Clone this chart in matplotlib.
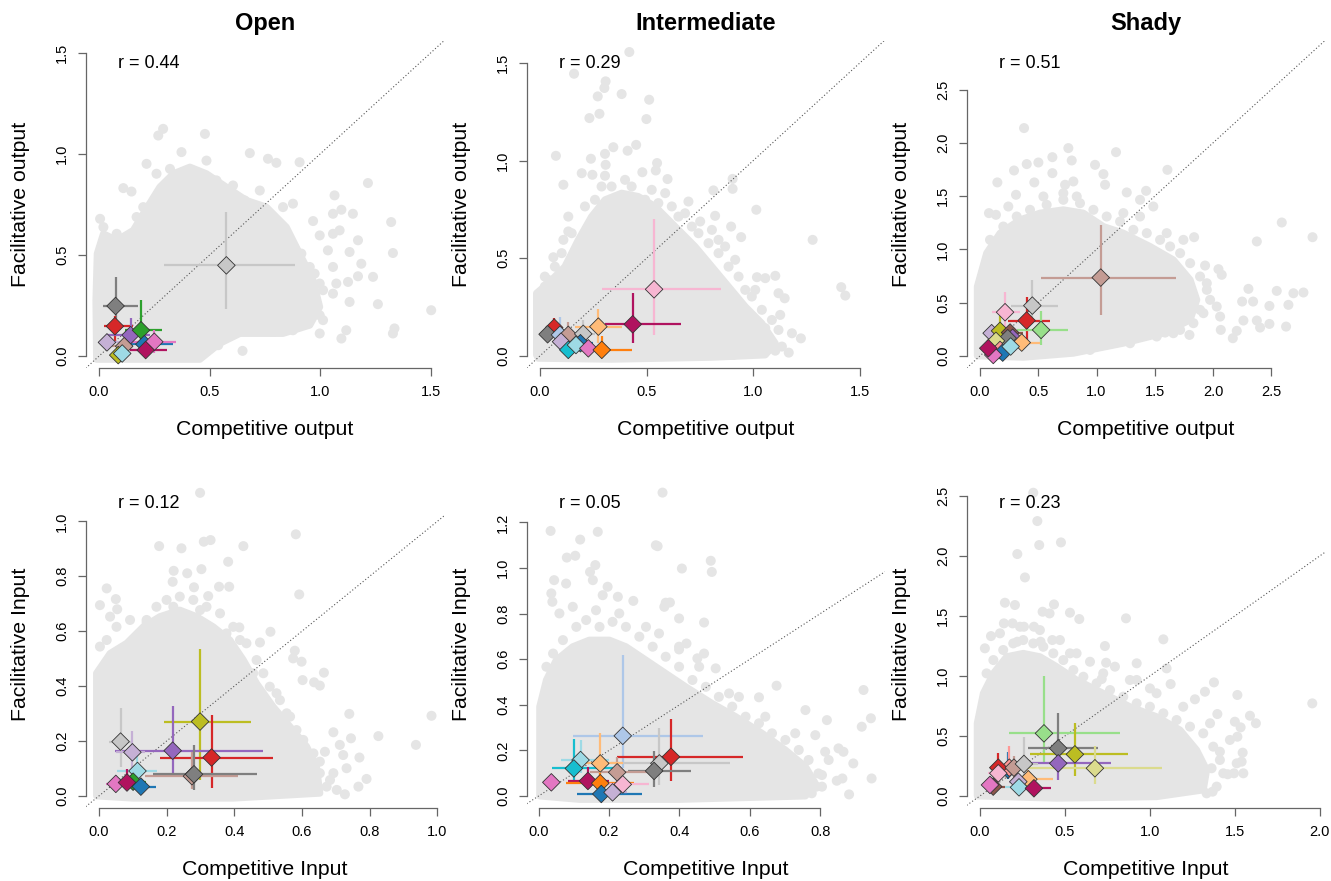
#!/usr/bin/env python3
"""Competitive vs facilitative output/input per habitat (Open, Intermediate, Shady).

Grey cloud = all pairwise values, diamonds = species means with CI bars,
dotted line = 1:1.
"""
import matplotlib
matplotlib.use("Agg")
import matplotlib.pyplot as plt
from matplotlib.patches import Polygon

# species colours
BLUE, LBLUE = "#1f77b4", "#aec7e8"
ORANGE, LORANGE = "#ff7f0e", "#ffbb78"
GREEN, LGREEN = "#2ca02c", "#98df8a"
RED, LRED = "#d62728", "#ff9896"
PURPLE, LPURPLE = "#9467bd", "#c5b0d5"
BROWN, LBROWN = "#8c564b", "#c49c94"
PINK, LPINK = "#e377c2", "#f7b6d2"
GREY, LGREY = "#7f7f7f", "#c7c7c7"
OLIVE, LOLIVE = "#bcbd22", "#dbdb8d"
CYAN, LCYAN = "#17becf", "#9edae5"
MAGENTA = "#b0135f"

TITLES = ["Open", "Intermediate", "Shady"]
R_VALUES = ["0.44", "0.29", "0.51", "0.12", "0.05", "0.23"]

# ---- species means: colour, x, y, x-CI, y-CI -------------------------------
# Open, output
P1_COL = [LGREY, GREY, RED, PURPLE, GREEN, LPURPLE, LBROWN, BLUE, PINK, MAGENTA, OLIVE, LCYAN]
P1_X = [0.576, 0.075, 0.072, 0.143, 0.190, 0.036, 0.114, 0.205, 0.250, 0.211, 0.087, 0.105]
P1_Y = [0.449, 0.248, 0.148, 0.104, 0.128, 0.068, 0.049, 0.059, 0.071, 0.030, 0.005, 0.013]
P1_XCI = [(0.293, 0.888), (0.020, 0.177), (0.023, 0.152), (0.030, 0.230), (0.117, 0.286), (0.010, 0.120),
          (0.060, 0.155), (0.130, 0.335), (0.150, 0.346), (0.140, 0.306), (0.060, 0.110), (0.070, 0.140)]
P1_YCI = [(0.235, 0.712), (0.120, 0.391), (0.064, 0.200), (0.050, 0.190), (0.030, 0.276), (0.040, 0.100),
          (0.020, 0.090), (0.030, 0.090), (0.015, 0.128), (0.010, 0.060), (0.000, 0.020), (0.000, 0.040)]

# Intermediate, output
P2_COL = [LPINK, MAGENTA, LORANGE, RED, GREY, LBLUE, LBROWN, LGREY, LPURPLE, BLUE, CYAN, LCYAN, PINK, ORANGE]
P2_X = [0.535, 0.435, 0.274, 0.067, 0.036, 0.094, 0.133, 0.203, 0.099, 0.190, 0.133, 0.169, 0.227, 0.290]
P2_Y = [0.341, 0.162, 0.150, 0.145, 0.111, 0.108, 0.108, 0.113, 0.073, 0.065, 0.031, 0.056, 0.039, 0.031]
P2_XCI = [(0.290, 0.849), (0.305, 0.662), (0.164, 0.383), (0.040, 0.100), (0.010, 0.070), (0.060, 0.130),
          (0.090, 0.170), (0.160, 0.260), (0.070, 0.130), (0.150, 0.250), (0.100, 0.170), (0.120, 0.220),
          (0.190, 0.270), (0.225, 0.430)]
P2_YCI = [(0.108, 0.700), (0.065, 0.320), (0.065, 0.239), (0.100, 0.193), (0.080, 0.140), (0.030, 0.200),
          (0.060, 0.175), (0.070, 0.184), (0.040, 0.100), (0.040, 0.090), (0.010, 0.060), (0.020, 0.100),
          (0.010, 0.070), (0.000, 0.100)]

# Shady, output
P3_COL = [LBROWN, LGREY, LPINK, RED, LGREEN, LPURPLE, OLIVE, BROWN, PURPLE, GREY, LOLIVE, LORANGE,
          LRED, BLUE, PINK, LCYAN, MAGENTA]
P3_X = [1.036, 0.449, 0.215, 0.400, 0.524, 0.100, 0.172, 0.258, 0.280, 0.238, 0.137, 0.358,
        0.172, 0.195, 0.114, 0.263, 0.071]
P3_Y = [0.735, 0.472, 0.410, 0.332, 0.244, 0.213, 0.235, 0.219, 0.170, 0.166, 0.141, 0.125,
        0.056, 0.031, 0.009, 0.088, 0.072]
P3_XCI = [(0.520, 1.683), (0.263, 0.672), (0.100, 0.343), (0.243, 0.601), (0.315, 0.753), (0.060, 0.150),
          (0.100, 0.250), (0.170, 0.370), (0.220, 0.340), (0.150, 0.320), (0.080, 0.200), (0.270, 0.515),
          (0.120, 0.230), (0.150, 0.250), (0.080, 0.150), (0.190, 0.330), (0.030, 0.120)]
P3_YCI = [(0.385, 1.230), (0.300, 0.714), (0.244, 0.604), (0.120, 0.557), (0.103, 0.425), (0.150, 0.270),
          (0.150, 0.370), (0.150, 0.280), (0.120, 0.220), (0.090, 0.250), (0.080, 0.210), (0.060, 0.200),
          (0.020, 0.100), (0.000, 0.070), (0.000, 0.040), (0.040, 0.140), (0.030, 0.120)]

# Open, input
P4_COL = [OLIVE, PURPLE, RED, LBROWN, GREY, LGREY, LPURPLE, LCYAN, PINK, GREEN, MAGENTA, BLUE]
P4_X = [0.299, 0.218, 0.333, 0.275, 0.281, 0.064, 0.099, 0.114, 0.050, 0.101, 0.083, 0.124]
P4_Y = [0.271, 0.165, 0.140, 0.072, 0.079, 0.198, 0.159, 0.091, 0.044, 0.052, 0.049, 0.034]
P4_XCI = [(0.192, 0.449), (0.047, 0.486), (0.180, 0.515), (0.136, 0.412), (0.160, 0.466), (0.030, 0.100),
          (0.050, 0.135), (0.052, 0.172), (0.020, 0.080), (0.070, 0.140), (0.050, 0.110), (0.090, 0.170)]
P4_YCI = [(0.058, 0.534), (0.083, 0.328), (0.030, 0.295), (0.025, 0.160), (0.022, 0.186), (0.107, 0.319),
          (0.100, 0.238), (0.050, 0.155), (0.020, 0.070), (0.020, 0.090), (0.020, 0.100), (0.010, 0.060)]

# Intermediate, input
P5_COL = [LBLUE, RED, LGREY, GREY, LBROWN, LORANGE, LCYAN, CYAN, MAGENTA, ORANGE, LPINK, PINK, BLUE, LPURPLE]
P5_X = [0.239, 0.376, 0.343, 0.328, 0.223, 0.175, 0.119, 0.100, 0.140, 0.175, 0.239, 0.036, 0.178, 0.210]
P5_Y = [0.264, 0.172, 0.143, 0.110, 0.104, 0.143, 0.158, 0.121, 0.066, 0.056, 0.051, 0.060, 0.009, 0.016]
P5_XCI = [(0.097, 0.467), (0.222, 0.581), (0.206, 0.543), (0.253, 0.434), (0.145, 0.324), (0.100, 0.240),
          (0.064, 0.200), (0.039, 0.210), (0.083, 0.200), (0.078, 0.272), (0.180, 0.314), (0.020, 0.050),
          (0.110, 0.295), (0.170, 0.250)]
P5_YCI = [(0.121, 0.618), (0.067, 0.340), (0.048, 0.297), (0.041, 0.197), (0.050, 0.172), (0.080, 0.275),
          (0.100, 0.246), (0.056, 0.250), (0.030, 0.128), (0.020, 0.100), (0.020, 0.080), (0.040, 0.080),
          (0.000, 0.030), (0.000, 0.040)]

# Shady, input
P6_COL = [LGREEN, GREY, OLIVE, PURPLE, LOLIVE, BLUE, LRED, RED, LBROWN, LGREY, LPINK, LORANGE,
          LPURPLE, BROWN, PINK, LCYAN, MAGENTA]
P6_X = [0.377, 0.461, 0.559, 0.461, 0.677, 0.165, 0.173, 0.108, 0.200, 0.259, 0.108, 0.285,
        0.226, 0.078, 0.059, 0.230, 0.318]
P6_Y = [0.522, 0.397, 0.347, 0.272, 0.231, 0.220, 0.236, 0.236, 0.236, 0.267, 0.189, 0.139,
        0.119, 0.078, 0.092, 0.072, 0.064]
P6_XCI = [(0.171, 0.824), (0.285, 0.697), (0.294, 0.870), (0.300, 0.770), (0.250, 1.070), (0.120, 0.210),
          (0.120, 0.230), (0.060, 0.160), (0.130, 0.270), (0.180, 0.340), (0.050, 0.170), (0.200, 0.432),
          (0.170, 0.280), (0.040, 0.150), (0.030, 0.090), (0.150, 0.300), (0.250, 0.416)]
P6_YCI = [(0.270, 1.000), (0.200, 0.689), (0.167, 0.606), (0.133, 0.400), (0.100, 0.417), (0.140, 0.370),
          (0.150, 0.420), (0.150, 0.356), (0.150, 0.330), (0.150, 0.494), (0.110, 0.270), (0.070, 0.220),
          (0.060, 0.180), (0.040, 0.120), (0.050, 0.130), (0.030, 0.120), (0.030, 0.100)]

# ---- background cloud: outline of the dense core, fringe and sparse points --
P1_CORE = [(-0.011, -0.016), (-0.014, 0.276), (-0.008, 0.507), (0.020, 0.605), (0.080, 0.573), (0.155, 0.622),
           (0.200, 0.704), (0.275, 0.836), (0.336, 0.902), (0.411, 0.935), (0.486, 0.902), (0.576, 0.836),
           (0.667, 0.770), (0.757, 0.737), (0.847, 0.638), (0.907, 0.507), (0.968, 0.375), (0.998, 0.243),
           (0.953, 0.153), (0.832, 0.112), (0.637, 0.112), (0.546, 0.063), (0.456, -0.016)]
P1_EDGE = [(0.396, 0.836), (0.456, 0.819), (0.531, 0.869), (0.606, 0.844), (0.659, 0.770), (0.727, 0.819),
           (0.832, 0.737), (0.877, 0.754), (0.862, 0.573), (0.877, 0.490), (0.915, 0.507), (0.953, 0.441),
           (0.975, 0.408), (0.998, 0.359), (1.013, 0.326), (0.968, 0.276), (0.930, 0.211), (0.877, 0.169),
           (0.998, 0.202), (0.938, 0.309), (0.200, 0.737), (0.170, 0.688), (0.080, 0.605), (0.035, 0.540),
           (0.321, 0.926), (0.260, 0.902), (0.546, 0.795), (0.697, 0.704), (0.787, 0.671), (1.035, 0.523),
           (1.058, 0.441), (1.013, 0.178), (0.817, 0.145), (0.697, 0.128), (0.576, 0.095)]
P1_PTS = [(0.290, 1.124), (0.268, 1.091), (0.479, 1.099), (0.373, 1.009), (0.682, 1.004), (0.764, 0.976),
          (0.802, 0.956), (0.486, 0.967), (0.215, 0.951), (0.907, 0.959), (1.216, 0.856), (0.110, 0.831),
          (0.147, 0.814), (1.065, 0.795), (1.096, 0.724), (1.148, 0.704), (0.968, 0.668), (1.321, 0.663),
          (1.058, 0.605), (1.088, 0.622), (1.171, 0.573), (1.133, 0.515), (1.186, 0.457), (1.329, 0.510),
          (1.239, 0.392), (1.171, 0.395), (1.126, 0.367), (1.073, 0.359), (1.058, 0.309), (1.133, 0.268),
          (1.261, 0.257), (1.502, 0.227), (1.336, 0.137), (1.329, 0.112), (1.118, 0.128), (0.998, 0.112),
          (0.877, 0.128), (0.787, 0.120), (1.096, 0.087), (0.649, 0.026), (0.539, 0.054), (0.005, 0.679),
          (0.020, 0.638), (0.998, 0.597), (1.058, 0.704)]

P2_CORE = [(-0.016, 0.005), (-0.016, 0.321), (0.039, 0.372), (0.117, 0.457), (0.180, 0.594), (0.242, 0.713),
           (0.305, 0.799), (0.383, 0.833), (0.461, 0.816), (0.540, 0.765), (0.634, 0.662), (0.727, 0.560),
           (0.806, 0.457), (0.884, 0.355), (0.962, 0.253), (1.040, 0.167), (1.103, 0.065), (1.056, 0.005),
           (0.806, -0.007), (0.336, -0.017), (-0.008, -0.012)]
P2_EDGE = [(0.211, 0.765), (0.258, 0.799), (0.336, 0.867), (0.368, 0.782), (0.430, 0.867), (0.493, 0.799),
           (0.555, 0.782), (0.587, 0.833), (0.649, 0.713), (0.680, 0.730), (0.743, 0.628), (0.790, 0.577),
           (0.837, 0.526), (0.884, 0.457), (0.931, 0.406), (0.962, 0.338), (0.993, 0.304), (1.040, 0.236),
           (1.087, 0.184), (1.118, 0.133), (1.181, 0.116), (1.056, 0.065), (0.149, 0.628), (0.102, 0.526),
           (0.070, 0.457), (0.039, 0.389), (0.133, 0.713), (0.289, 0.867), (0.399, 0.901), (0.524, 0.850),
           (0.618, 0.765), (0.712, 0.662), (0.806, 0.645), (0.868, 0.560), (0.915, 0.492), (1.009, 0.338),
           (1.134, 0.048), (0.853, 0.014)]
P2_PTS = [(0.419, 1.555), (0.160, 1.444), (0.308, 1.405), (0.302, 1.371), (0.383, 1.340), (0.271, 1.328),
          (0.512, 1.311), (0.232, 1.217), (0.279, 1.239), (0.499, 1.212), (0.344, 1.068), (0.451, 1.080),
          (0.411, 1.050), (0.075, 1.024), (0.305, 1.034), (0.239, 1.009), (0.549, 0.987), (0.308, 0.978),
          (0.196, 0.935), (0.480, 0.940), (0.543, 0.949), (0.598, 0.905), (0.246, 0.927), (0.110, 0.876),
          (0.305, 0.922), (0.903, 0.906), (0.903, 0.855), (0.813, 0.847), (1.014, 0.748), (0.696, 0.790),
          (1.278, 0.594), (0.751, 0.688), (0.821, 0.717), (0.896, 0.662), (0.943, 0.608), (0.837, 0.594),
          (1.017, 0.403), (1.103, 0.410), (1.056, 0.398), (1.118, 0.321), (1.147, 0.295), (1.412, 0.352),
          (1.431, 0.309), (1.126, 0.210), (1.223, 0.090), (1.166, 0.017), (1.103, 0.027), (0.907, 0.005),
          (1.056, 0.142), (0.063, 0.505), (0.023, 0.406), (0.023, 0.355), (0.133, 0.637), (0.110, 0.594)]

P3_CORE = [(-0.023, 0.0), (-0.023, 0.651), (0.057, 0.964), (0.172, 1.152), (0.343, 1.277), (0.515, 1.340),
           (0.715, 1.371), (0.887, 1.340), (1.059, 1.214), (1.230, 1.152), (1.459, 1.027), (1.659, 0.901),
           (1.803, 0.714), (1.860, 0.526), (1.803, 0.338), (1.574, 0.213), (1.230, 0.119), (0.801, 0.025),
           (0.372, -0.013)]
P3_EDGE = [(0.086, 1.089), (0.200, 1.214), (0.315, 1.308), (0.429, 1.371), (0.572, 1.418), (0.715, 1.465),
           (0.858, 1.433), (0.973, 1.371), (1.087, 1.308), (1.202, 1.261), (1.316, 1.183), (1.431, 1.152),
           (1.545, 1.089), (1.631, 1.027), (1.717, 0.964), (1.803, 0.870), (1.888, 0.745), (1.946, 0.620),
           (1.974, 0.526), (1.917, 0.401), (1.831, 0.307), (1.717, 0.244), (1.516, 0.182), (1.288, 0.119),
           (0.944, 0.056), (0.114, 0.870), (0.029, 0.776), (0.243, 1.402), (0.544, 1.496), (0.830, 1.496),
           (1.230, 1.340), (1.373, 1.308), (1.602, 1.152), (1.745, 1.089), (2.031, 0.463), (1.659, 0.213)]
P3_PTS = [(0.378, 2.138), (0.758, 1.950), (1.167, 1.912), (0.621, 1.865), (0.787, 1.834), (0.401, 1.800),
          (0.501, 1.815), (0.292, 1.740), (0.621, 1.715), (0.987, 1.793), (1.059, 1.706), (1.608, 1.746),
          (0.149, 1.628), (0.466, 1.628), (0.730, 1.606), (0.801, 1.637), (1.073, 1.606), (0.715, 1.527),
          (0.309, 1.512), (1.259, 1.534), (1.425, 1.549), (1.373, 1.465), (1.487, 1.402), (0.077, 1.340),
          (0.137, 1.324), (2.589, 1.252), (2.853, 1.114), (2.375, 1.074), (1.837, 1.114), (1.931, 0.848),
          (2.046, 0.814), (2.074, 0.761), (2.303, 0.629), (2.546, 0.610), (2.689, 0.588), (2.775, 0.595),
          (2.646, 0.479), (2.249, 0.510), (2.343, 0.510), (2.483, 0.469), (2.260, 0.332), (2.375, 0.332),
          (2.483, 0.300), (2.626, 0.275), (2.403, 0.266), (2.066, 0.244), (2.203, 0.235), (2.169, 0.166),
          (1.797, 0.197), (1.659, 0.260), (1.588, 0.219), (2.060, 0.369), (1.946, 0.682), (1.888, 0.432)]

P4_CORE = [(-0.007, 0.0), (-0.007, 0.447), (0.033, 0.519), (0.082, 0.556), (0.131, 0.616), (0.180, 0.653),
           (0.239, 0.677), (0.289, 0.653), (0.338, 0.616), (0.387, 0.568), (0.427, 0.495), (0.466, 0.410),
           (0.515, 0.325), (0.565, 0.252), (0.614, 0.180), (0.643, 0.107), (0.653, 0.010), (0.397, -0.008),
           (0.101, -0.008)]
P4_EDGE = [(0.141, 0.641), (0.170, 0.689), (0.200, 0.714), (0.239, 0.726), (0.279, 0.714), (0.318, 0.689),
           (0.358, 0.665), (0.397, 0.616), (0.436, 0.556), (0.466, 0.495), (0.486, 0.447), (0.505, 0.398),
           (0.535, 0.349), (0.555, 0.301), (0.584, 0.240), (0.604, 0.204), (0.634, 0.155), (0.653, 0.083),
           (0.673, 0.034), (0.023, 0.568), (0.052, 0.616), (0.092, 0.641), (0.003, 0.544), (0.220, 0.689),
           (0.299, 0.677), (0.377, 0.592), (0.417, 0.568), (0.456, 0.447), (0.525, 0.374), (0.565, 0.289),
           (0.594, 0.143), (0.614, 0.083), (0.693, 0.083)]
P4_PTS = [(0.299, 1.104), (0.178, 0.910), (0.244, 0.902), (0.310, 0.926), (0.330, 0.932), (0.427, 0.910),
          (0.582, 0.953), (0.382, 0.853), (0.303, 0.826), (0.221, 0.820), (0.261, 0.811), (0.218, 0.780),
          (0.023, 0.756), (0.281, 0.760), (0.355, 0.762), (0.385, 0.762), (0.592, 0.734), (0.323, 0.728),
          (0.003, 0.695), (0.050, 0.717), (0.054, 0.680), (0.033, 0.653), (0.141, 0.632), (0.507, 0.598),
          (0.415, 0.614), (0.476, 0.559), (0.579, 0.529), (0.574, 0.501), (0.599, 0.489), (0.665, 0.449),
          (0.602, 0.422), (0.636, 0.414), (0.653, 0.402), (0.740, 0.299), (0.983, 0.292), (0.826, 0.218),
          (0.937, 0.186), (0.745, 0.210), (0.693, 0.232), (0.770, 0.140), (0.732, 0.101), (0.791, 0.062),
          (0.767, 0.034), (0.727, 0.006), (0.703, 0.022), (0.683, 0.058), (0.653, 0.125), (0.722, 0.149),
          (0.712, 0.186), (0.668, 0.161)]

P5_CORE = [(0.003, 0.0), (0.003, 0.392), (0.022, 0.509), (0.050, 0.596), (0.097, 0.655), (0.144, 0.684),
           (0.201, 0.684), (0.248, 0.655), (0.305, 0.596), (0.361, 0.538), (0.418, 0.479), (0.493, 0.406),
           (0.560, 0.348), (0.635, 0.275), (0.701, 0.202), (0.758, 0.129), (0.786, 0.056), (0.758, 0.0),
           (0.399, -0.015), (0.116, -0.015)]
P5_EDGE = [(0.022, 0.567), (0.041, 0.625), (0.069, 0.684), (0.107, 0.742), (0.135, 0.772), (0.173, 0.742),
           (0.210, 0.764), (0.248, 0.742), (0.286, 0.699), (0.324, 0.655), (0.361, 0.611), (0.399, 0.567),
           (0.437, 0.509), (0.475, 0.479), (0.512, 0.435), (0.550, 0.392), (0.588, 0.348), (0.626, 0.319),
           (0.663, 0.275), (0.701, 0.246), (0.739, 0.202), (0.767, 0.158), (0.795, 0.099), (0.805, 0.041),
           (0.776, 0.012), (0.059, 0.801), (0.097, 0.830), (0.163, 0.815), (0.229, 0.801), (0.305, 0.742),
           (0.342, 0.713), (0.399, 0.655), (0.456, 0.567), (0.541, 0.450), (0.644, 0.348), (0.729, 0.275),
           (0.824, 0.158)]
P5_PTS = [(0.352, 1.331), (0.034, 1.163), (0.168, 1.159), (0.118, 1.125), (0.333, 1.100), (0.338, 1.096),
          (0.080, 1.046), (0.104, 1.054), (0.161, 1.013), (0.407, 0.998), (0.489, 1.032), (0.492, 0.983),
          (0.146, 0.983), (0.044, 0.947), (0.078, 0.932), (0.154, 0.947), (0.196, 0.918), (0.036, 0.889),
          (0.039, 0.852), (0.182, 0.881), (0.225, 0.874), (0.269, 0.856), (0.361, 0.848), (0.373, 0.849),
          (0.357, 0.830), (0.399, 0.779), (0.470, 0.761), (0.420, 0.669), (0.399, 0.643), (0.470, 0.625),
          (0.451, 0.604), (0.503, 0.560), (0.676, 0.484), (0.626, 0.433), (0.569, 0.435), (0.923, 0.465),
          (0.758, 0.377), (0.819, 0.333), (0.944, 0.341), (0.786, 0.267), (0.918, 0.304), (0.852, 0.209),
          (0.866, 0.194), (0.894, 0.143), (0.814, 0.194), (0.805, 0.092), (0.847, 0.067), (0.863, 0.077),
          (0.946, 0.077), (0.882, 0.007), (0.789, 0.041), (0.720, 0.041), (0.739, 0.099)]

P6_CORE = [(-0.016, 0.0), (-0.016, 0.606), (0.020, 0.856), (0.079, 1.022), (0.157, 1.161), (0.255, 1.189),
           (0.353, 1.161), (0.452, 1.078), (0.569, 0.967), (0.726, 0.856), (0.883, 0.744), (1.040, 0.661),
           (1.178, 0.550), (1.276, 0.383), (1.335, 0.217), (1.315, 0.050), (1.040, -0.006), (0.452, -0.019)]
P6_EDGE = [(0.039, 1.022), (0.079, 1.133), (0.137, 1.217), (0.196, 1.272), (0.255, 1.300), (0.314, 1.272),
           (0.373, 1.244), (0.432, 1.189), (0.491, 1.133), (0.550, 1.050), (0.609, 0.994), (0.687, 0.939),
           (0.766, 0.883), (0.844, 0.828), (0.923, 0.772), (1.001, 0.744), (1.080, 0.689), (1.158, 0.633),
           (1.237, 0.578), (1.315, 0.522), (1.374, 0.411), (1.413, 0.300), (1.433, 0.189), (1.394, 0.078),
           (1.335, 0.022), (0.118, 1.356), (0.236, 1.411), (0.353, 1.383), (0.471, 1.300), (0.569, 1.189),
           (0.726, 1.022), (0.883, 0.967), (1.040, 0.856), (1.197, 0.744), (1.355, 0.606), (1.472, 0.467),
           (1.551, 0.189)]
P6_PTS = [(0.314, 2.528), (0.338, 2.292), (0.477, 2.114), (0.349, 2.092), (0.220, 2.017), (0.265, 1.822),
          (0.147, 1.611), (0.206, 1.592), (0.436, 1.597), (0.369, 1.536), (0.410, 1.522), (0.530, 1.528),
          (0.585, 1.475), (0.860, 1.481), (0.141, 1.439), (0.192, 1.439), (0.259, 1.411), (0.318, 1.411),
          (0.065, 1.333), (0.029, 1.231), (0.220, 1.286), (0.357, 1.286), (0.426, 1.300), (1.080, 1.306),
          (0.736, 1.250), (0.530, 1.189), (0.648, 1.119), (0.743, 1.111), (0.795, 1.078), (0.923, 1.106),
          (1.099, 1.064), (0.717, 0.975), (0.923, 0.967), (1.001, 0.897), (1.123, 0.933), (1.378, 0.947),
          (1.325, 0.869), (1.266, 0.806), (1.957, 0.772), (1.516, 0.842), (1.590, 0.669), (1.625, 0.606),
          (1.535, 0.572), (1.501, 0.619), (1.516, 0.494), (1.398, 0.683), (1.547, 0.361), (1.541, 0.286),
          (1.496, 0.189), (1.512, 0.272), (1.459, 0.181), (1.413, 0.369), (1.364, 0.231), (1.370, 0.036),
          (1.315, 0.161), (1.158, 0.036), (1.217, 0.106)]

CLOUD = "#e5e5e5"


def draw_panel(ax, core, edge, pts, cols, xs, ys, xci, yci, xlim, ylim, xticks, yticks,
               xlabel, ylabel, r):
    ax.add_patch(Polygon(core, closed=True, facecolor=CLOUD, edgecolor=CLOUD,
                         linewidth=5, joinstyle="round", zorder=1))
    cloud = edge + pts
    ax.scatter([p[0] for p in cloud], [p[1] for p in cloud], s=52, color=CLOUD,
               edgecolors="none", zorder=1)
    ax.axline((0, 0), slope=1, color="#555555", lw=0.8, ls=(0, (1, 2)), zorder=2)

    for c, x, y, (x0, x1), (y0, y1) in zip(cols, xs, ys, xci, yci):
        ax.hlines(y, x0, x1, colors=c, lw=1.6, zorder=3)
        ax.vlines(x, y0, y1, colors=c, lw=1.6, zorder=3)
    ax.scatter(xs, ys, marker="D", s=80, c=cols, edgecolors="#333333",
               linewidths=0.6, zorder=4)

    ax.set_xlim(*xlim)
    ax.set_ylim(*ylim)
    ax.set_xticks(xticks)
    ax.set_yticks(yticks)
    ax.set_xticklabels([f"{t:.1f}" for t in xticks])
    ax.set_yticklabels([f"{t:.1f}" for t in yticks], rotation=90, va="center")
    for side in ("top", "right"):
        ax.spines[side].set_visible(False)
    ax.spines["left"].set_bounds(yticks[0], yticks[-1])
    ax.spines["bottom"].set_bounds(xticks[0], xticks[-1])
    for side in ("left", "bottom"):
        ax.spines[side].set_color("#666666")
        ax.spines[side].set_linewidth(0.9)
    ax.tick_params(direction="out", length=5.8, width=0.9, color="#666666",
                   labelsize=10.5, pad=6)
    ax.set_xlabel(xlabel, fontsize=15.3, va="center")
    ax.set_ylabel(ylabel, fontsize=15.3, va="center")
    ax.xaxis.set_label_coords(0.5, -0.188)
    ax.yaxis.set_label_coords(-0.183, 0.5)
    ax.text(0.177, 0.931, f"r = {r}", transform=ax.transAxes, ha="center",
            va="center", fontsize=13)


def main():
    plt.rcParams["font.family"] = ["Liberation Sans", "DejaVu Sans"]
    fig = plt.figure(figsize=(13.31, 8.81), dpi=100)

    w, h = 0.2692, 0.3718
    lefts = [0.0644, 0.3957, 0.7263]
    top_b, bot_b = 0.5820, 0.0825

    o_ticks = [0.0, 0.5, 1.0, 1.5]
    s_ticks = [0.0, 0.5, 1.0, 1.5, 2.0, 2.5]
    panels = [
        (P1_CORE, P1_EDGE, P1_PTS, P1_COL, P1_X, P1_Y, P1_XCI, P1_YCI,
         (-0.060, 1.560), (-0.060, 1.560), o_ticks, o_ticks, "output"),
        (P2_CORE, P2_EDGE, P2_PTS, P2_COL, P2_X, P2_Y, P2_XCI, P2_YCI,
         (-0.062, 1.617), (-0.063, 1.613), o_ticks, o_ticks, "output"),
        (P3_CORE, P3_EDGE, P3_PTS, P3_COL, P3_X, P3_Y, P3_XCI, P3_YCI,
         (-0.114, 2.960), (-0.116, 2.958), s_ticks, s_ticks, "output"),
        (P4_CORE, P4_EDGE, P4_PTS, P4_COL, P4_X, P4_Y, P4_XCI, P4_YCI,
         (-0.039, 1.020), (-0.045, 1.148), [0.0, 0.2, 0.4, 0.6, 0.8, 1.0],
         [0.0, 0.2, 0.4, 0.6, 0.8, 1.0], "Input"),
        (P5_CORE, P5_EDGE, P5_PTS, P5_COL, P5_X, P5_Y, P5_XCI, P5_YCI,
         (-0.034, 0.984), (-0.054, 1.383), [0.0, 0.2, 0.4, 0.6, 0.8],
         [0.0, 0.2, 0.4, 0.6, 0.8, 1.0, 1.2], "Input"),
        (P6_CORE, P6_EDGE, P6_PTS, P6_COL, P6_X, P6_Y, P6_XCI, P6_YCI,
         (-0.078, 2.032), (-0.103, 2.628), [0.0, 0.5, 1.0, 1.5, 2.0], s_ticks, "Input"),
    ]

    for i, (core, edge, pts, cols, xs, ys, xci, yci, xlim, ylim, xt, yt, kind) in enumerate(panels):
        row, col = divmod(i, 3)
        ax = fig.add_axes([lefts[col], top_b if row == 0 else bot_b, w, h])
        draw_panel(ax, core, edge, pts, cols, xs, ys, xci, yci, xlim, ylim, xt, yt,
                   f"Competitive {kind}", f"Facilitative {kind}", R_VALUES[i])
        if row == 0:
            ax.set_title(TITLES[col], fontsize=17, fontweight="bold", y=1.053,
                         pad=0, va="center")

    fig.savefig("out.png", dpi=100)
    plt.close(fig)


if __name__ == "__main__":
    main()
